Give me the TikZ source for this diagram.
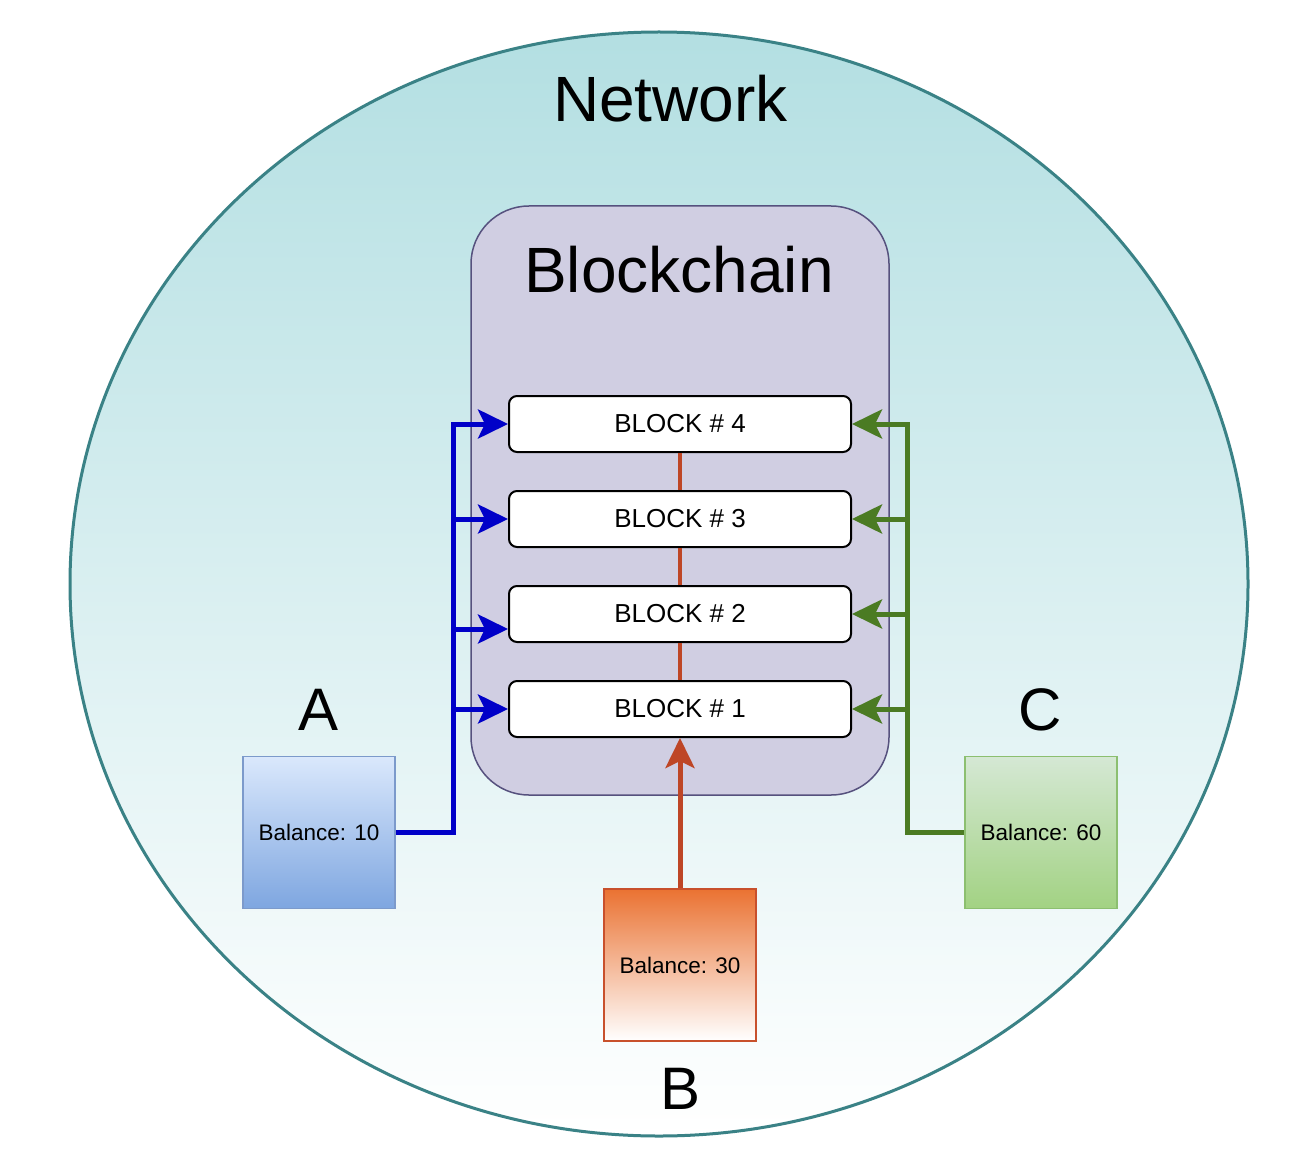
\documentclass[tikz,border=0pt]{standalone}
\usepackage{fontspec}
\setmainfont{Liberation Sans}
\usetikzlibrary{arrows.meta,shapes.geometric,calc}
\definecolor{nettop}{HTML}{B3DFE2}
\definecolor{netstroke}{HTML}{3A8286}
\definecolor{chainfill}{HTML}{D0CEE2}
\definecolor{chainstroke}{HTML}{56517E}
\definecolor{linkred}{HTML}{BE4626}
\definecolor{busblue}{HTML}{0000C8}
\definecolor{busgreen}{HTML}{4B7B23}
\definecolor{atop}{HTML}{DAE8FC}
\definecolor{abot}{HTML}{7EA6E0}
\definecolor{astroke}{HTML}{7C9ACB}
\definecolor{ctop}{HTML}{D5E8D4}
\definecolor{cbot}{HTML}{A2D283}
\definecolor{cstroke}{HTML}{8CBF70}
\definecolor{btop}{HTML}{EA7232}
\definecolor{bstroke}{HTML}{C8502C}
\tikzset{
  bigtext/.style={font=\fontsize{64}{70}\selectfont, inner sep=0pt, anchor=base},
  lettertext/.style={font=\fontsize{60}{66}\selectfont, inner sep=0pt, anchor=base},
  blockbox/.style={draw=black, line width=2pt, fill=white, rounded corners=8pt,
    minimum width=342pt, minimum height=56pt, inner sep=0pt, font=\fontsize{26}{30}\selectfont},
  walletbox/.style={line width=1.5pt, minimum width=152pt, minimum height=152pt,
    inner sep=0pt, font=\fontsize{22.5}{27}\selectfont},
  tipstyle/.style={-{Stealth[length=30pt,width=29pt,inset=7pt]}},
  bluebus/.style={draw=busblue, line width=5pt, tipstyle},
  greenbus/.style={draw=busgreen, line width=5pt, tipstyle},
  redlink/.style={draw=linkred, line width=4.5pt},
  redarrow/.style={draw=linkred, line width=5pt, tipstyle},
}
\begin{document}
\begin{tikzpicture}[x=1pt,y=-1pt]
\useasboundingbox (0,0) rectangle (1308,1174);
\fill[white] (0,0) rectangle (1308,1174);
% network
\node[ellipse, draw=netstroke, line width=3pt, top color=nettop, bottom color=white,
  minimum width=1178pt, minimum height=1104pt, inner sep=0pt] (net) at (659,584) {};
\node[bigtext] (nettitle) at (670.5,122) {Network};
% blockchain container
\node[draw=chainstroke, fill=chainfill, line width=1.5pt, rounded corners=58pt,
  minimum width=418pt, minimum height=589pt, inner sep=0pt] (chain) at (680,500.5) {};
\node[bigtext] (chaintitle) at (679,292) {Blockchain};
% blocks
\node[blockbox] (b4) at (680,424) {BLOCK \# 4};
\node[blockbox] (b3) at (680,519) {BLOCK \# 3};
\node[blockbox] (b2) at (680,614) {BLOCK \# 2};
\node[blockbox] (b1) at (680,709) {BLOCK \# 1};
\draw[redlink] (b4.south) -- (b3.north);
\draw[redlink] (b3.south) -- (b2.north);
\draw[redlink] (b2.south) -- (b1.north);
% wallets
\node[walletbox, draw=astroke, top color=atop, bottom color=abot] (wa) at (319,832.5) {Balance: 10};
\node[walletbox, draw=cstroke, top color=ctop, bottom color=cbot] (wc) at (1041,832.5) {Balance: 60};
\node[walletbox, draw=bstroke, top color=btop, bottom color=white] (wb) at (680,965) {Balance: 30};
\node[lettertext] (la) at (319,730) {A};
\node[lettertext] (lc) at (1040,730) {C};
\node[lettertext] (lb) at (680,1109) {B};
% blue bus
\coordinate (abus) at ($(wa.east)+(58,0)$);
\draw[bluebus] (wa.east) -- (abus) |- (b4.west);
\draw[bluebus] (abus |- b3.west) -- (b3.west);
\draw[bluebus] (abus |- 0,629) -- (b2.west |- 0,629);
\draw[bluebus] (abus |- b1.west) -- (b1.west);
% green bus
\coordinate (cbus) at ($(wc.west)+(-57,0)$);
\draw[greenbus] (wc.west) -- (cbus) |- (b4.east);
\draw[greenbus] (cbus |- b3.east) -- (b3.east);
\draw[greenbus] (cbus |- b2.east) -- (b2.east);
\draw[greenbus] (cbus |- b1.east) -- (b1.east);
% red arrow
\draw[redarrow] (wb.north) -- (b1.south);
\end{tikzpicture}
\end{document}
